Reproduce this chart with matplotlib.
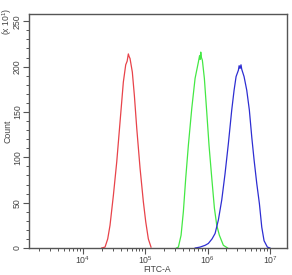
import numpy as np
import matplotlib
matplotlib.use("Agg")
import matplotlib.pyplot as plt
from matplotlib.ticker import LogLocator, NullFormatter, FixedLocator, MultipleLocator

# ---- data (log10 of FITC-A intensity, counts in units of 10^1) ----
red_log_fitc = [4.30, 4.353, 4.396, 4.433, 4.487, 4.541, 4.594, 4.647, 4.685, 4.708, 4.727,
                4.740, 4.754, 4.791, 4.824, 4.862, 4.915, 4.968, 5.006, 5.048, 5.091]
red_counts = [0, 1, 10, 25, 58, 95, 139, 183, 202, 206, 214,
              211, 209, 194, 168, 132, 88, 51, 29, 10, 1]

green_log_fitc = [5.50, 5.530, 5.573, 5.610, 5.648, 5.690, 5.745, 5.798, 5.851, 5.870, 5.880,
                  5.889, 5.900, 5.915, 5.947, 5.985, 6.022, 6.066, 6.108, 6.146, 6.188,
                  6.252, 6.320]
green_counts = [0, 1, 14, 40, 77, 113, 154, 187, 205, 212, 208,
                216, 210, 207, 187, 150, 113, 77, 44, 25, 14,
                3, 0]

blue_log_fitc = [5.80, 5.878, 5.960, 6.011, 6.070, 6.119, 6.172, 6.226, 6.279, 6.332, 6.386,
                 6.424, 6.456, 6.493, 6.505, 6.520, 6.535, 6.547, 6.584, 6.627, 6.669,
                 6.708, 6.745, 6.788, 6.830, 6.868, 6.905, 6.958, 7.000]
blue_counts = [0, 1, 3, 5, 10, 16, 31, 53, 82, 115, 152,
               174, 189, 196, 201, 198, 202, 197, 189, 174, 152,
               122, 97, 71, 49, 23, 8, 1, 0]

series = [
    (red_log_fitc, red_counts, "#e8434a"),
    (green_log_fitc, green_counts, "#44e844"),
    (blue_log_fitc, blue_counts, "#2e2ed2"),
]

x_major = [1e4, 1e5, 1e6, 1e7]
x_major_labels = [r"$10^4$", r"$10^5$", r"$10^6$", r"$10^7$"]
y_major = [0, 50, 100, 150, 200, 250]

plt.rcParams["font.family"] = ["Liberation Sans", "DejaVu Sans"]
plt.rcParams["mathtext.fontset"] = "custom"
plt.rcParams["mathtext.rm"] = "Liberation Sans"
plt.rcParams["mathtext.it"] = "Liberation Sans"

W, H = 292, 275
fig = plt.figure(figsize=(2.92, 2.75), dpi=100)
ax = fig.add_axes([28.5 / W, (H - 248) / H, 258 / W, 234 / H])

for lx, cnt, col in series:
    ax.plot(np.power(10.0, lx), cnt, color=col, lw=0.9)

ax.set_xscale("log")
ax.set_xlim(10 ** 3.125, 10 ** 7.265)
ax.set_ylim(0, 258)

tc = "#555555"
txt = "#444444"
ax.xaxis.set_major_locator(FixedLocator(x_major))
ax.set_xticklabels(x_major_labels)
ax.xaxis.set_minor_locator(LogLocator(base=10, subs=np.arange(2, 10)))
ax.xaxis.set_minor_formatter(NullFormatter())
ax.yaxis.set_major_locator(FixedLocator(y_major))
ax.yaxis.set_minor_locator(MultipleLocator(10))
ax.set_yticklabels([str(v) for v in y_major], rotation=90, va="center")

ax.tick_params(axis="both", which="major", direction="out", length=4, width=0.8,
               color=tc, labelsize=6.3, labelcolor=txt, pad=0.8)
ax.tick_params(axis="x", which="major", pad=0.2)
ax.tick_params(axis="both", which="minor", direction="out", length=2.5, width=0.7, color=tc)

for s in ax.spines.values():
    s.set_color(tc)
    s.set_linewidth(1.0)

fig.text(157.5 / W, 1 - 269.5 / H, "FITC-A", fontsize=6.2, color=txt,
         ha="center", va="center")
fig.text(8 / W, 1 - 131 / H, "Count", fontsize=6.3, color=txt, rotation=90,
         ha="center", va="center")
fig.text(7 / W, 1 - 21 / H, r"(x $10^1$)", rotation=90, fontsize=6.2,
         color=txt, ha="center", va="center")

fig.savefig("out.png", dpi=100)
